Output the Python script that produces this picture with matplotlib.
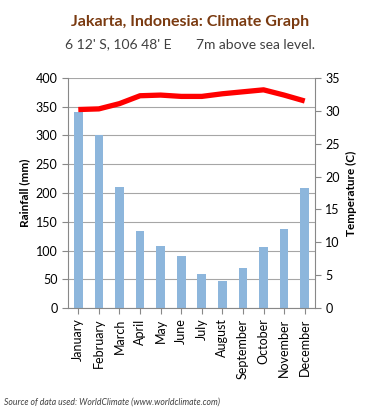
import matplotlib
matplotlib.use('Agg')
import matplotlib.pyplot as plt
import numpy as np

months = ['January', 'February', 'March', 'April', 'May', 'June', 'July',
          'August', 'September', 'October', 'November', 'December']
rainfall = [340, 300, 210, 134, 107, 90, 59, 47, 69, 106, 138, 208]
temperature = [30.2, 30.3, 31.1, 32.3, 32.4, 32.2, 32.2, 32.6, 32.9, 33.2, 32.4, 31.5]

plt.rcParams['font.family'] = ['Lato', 'DejaVu Sans']

fig = plt.figure(figsize=(3.68, 4.12), dpi=100)
ax = fig.add_axes([68/368, 1-308/412, 247/368, 230/412])

x = np.arange(len(months))
ax.bar(x, rainfall, width=0.42, color='#8db6dc', zorder=2)
ax.set_ylim(0, 400)
ax.set_xlim(-0.5, 11.5)
ax.set_yticks(range(0, 401, 50))
ax.grid(axis='y', color='#a6a6a6', linewidth=0.8, zorder=0)
ax.set_xticks(x)
ax.set_xticklabels(months, rotation=90, fontsize=9)
ax.tick_params(axis='y', labelsize=9, length=4, color='#888888')
ax.tick_params(axis='x', length=4, color='#888888')
ax.set_ylabel('Rainfall (mm)', fontsize=8.5, fontweight='bold', labelpad=4)
for s in ['top', 'right']:
    ax.spines[s].set_visible(False)
for s in ['left', 'bottom']:
    ax.spines[s].set_color('#888888')

ax2 = ax.twinx()
ax2.plot(x, temperature, color='#ff0000', linewidth=3.8, solid_capstyle='butt', zorder=3)
ax2.set_ylim(0, 35)
ax2.set_yticks(range(0, 36, 5))
ax2.tick_params(axis='y', labelsize=9, length=4, color='#888888')
ax2.set_ylabel('Temperature (C)', fontsize=8.5, fontweight='bold', labelpad=4)
for s in ['top', 'left', 'bottom']:
    ax2.spines[s].set_visible(False)
ax2.spines['right'].set_color('#888888')

fig.text(190/368, 1-22/412, 'Jakarta, Indonesia: Climate Graph', ha='center', va='center',
         fontsize=11.5, fontweight='bold', color='#7a3a10')
fig.text(190/368, 1-44/412, "6 12' S, 106 48' E       7m above sea level.", ha='center', va='center',
         fontsize=10, color='#404040')
fig.text(4/368, 1-402/412, 'Source of data used: WorldClimate (www.worldclimate.com)',
         ha='left', va='center', fontsize=6.2, style='italic', color='#404040')

fig.savefig('out.png', dpi=100)
